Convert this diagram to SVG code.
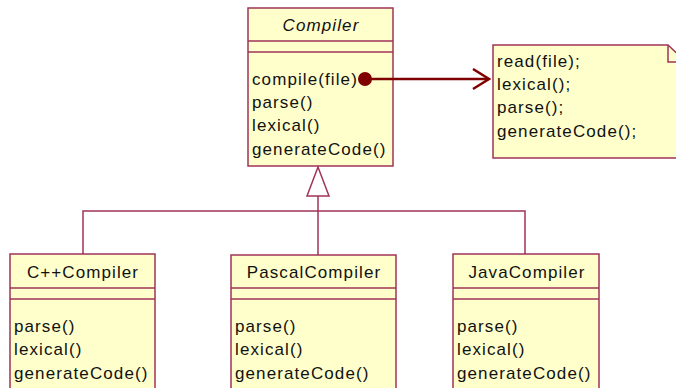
<svg xmlns="http://www.w3.org/2000/svg" width="676" height="388" viewBox="0 0 676 388">
<defs>
<style>
.box{fill:#FFFFCC;stroke:#A03358;stroke-width:1.5}
.ln{stroke:#A03358;stroke-width:1.5;fill:none}
text{font-family:"Liberation Sans",Arial,sans-serif;font-size:17px;letter-spacing:1.1px;fill:#111}
.c{text-anchor:middle}
</style>
<marker id="open" markerWidth="20" markerHeight="24" refX="18" refY="11" orient="auto" markerUnits="userSpaceOnUse">
<path d="M2,1 L18,11 L2,21" fill="none" stroke="#800000" stroke-width="2.5"/>
</marker>
</defs>
<rect width="676" height="388" fill="#fff"/>
<g id="Compiler">
<rect class="box" x="248" y="8" width="145" height="158"/>
<line class="ln" x1="248" y1="41" x2="393" y2="41"/>
<line class="ln" x1="248" y1="52" x2="393" y2="52"/>
<text class="c" x="321" y="31" font-style="italic">Compiler</text>
<text x="252" y="85">compile(file)</text>
<text x="252" y="108">parse()</text>
<text x="252" y="131">lexical()</text>
<text x="252" y="155">generateCode()</text>
</g>
<g id="note">
<path class="box" d="M493,45 L668,45 L686,62 L686,158 L493,158 Z"/>
<path class="ln" d="M668,45 L668,62 L686,62"/>
<text x="497" y="67">read(file);</text>
<text x="497" y="90">lexical();</text>
<text x="497" y="113">parse();</text>
<text x="497" y="137">generateCode();</text>
</g>
<g id="CppCompiler">
<rect class="box" x="10" y="254" width="145" height="150"/>
<line class="ln" x1="10" y1="288" x2="155" y2="288"/>
<line class="ln" x1="10" y1="299" x2="155" y2="299"/>
<text class="c" x="83" y="278">C++Compiler</text>
<text x="14" y="332">parse()</text>
<text x="14" y="355">lexical()</text>
<text x="14" y="379">generateCode()</text>
</g>
<g id="PascalCompiler">
<rect class="box" x="231" y="255" width="165" height="150"/>
<line class="ln" x1="231" y1="288" x2="396" y2="288"/>
<line class="ln" x1="231" y1="299" x2="396" y2="299"/>
<text class="c" x="314" y="278">PascalCompiler</text>
<text x="235" y="332">parse()</text>
<text x="235" y="355">lexical()</text>
<text x="235" y="379">generateCode()</text>
</g>
<g id="JavaCompiler">
<rect class="box" x="453" y="254" width="146" height="150"/>
<line class="ln" x1="453" y1="288" x2="599" y2="288"/>
<line class="ln" x1="453" y1="299" x2="599" y2="299"/>
<text class="c" x="527" y="278">JavaCompiler</text>
<text x="457" y="332">parse()</text>
<text x="457" y="355">lexical()</text>
<text x="457" y="379">generateCode()</text>
</g>
<g id="connectors">
<polyline class="ln" points="83,254 83,211 525,211 525,254"/>
<line class="ln" x1="318" y1="196" x2="318" y2="255"/>
<polygon points="318,167 307,196 329,196" fill="#fff" stroke="#A03358" stroke-width="1.5"/>
<line x1="365" y1="79" x2="489" y2="79" stroke="#800000" stroke-width="2.5" marker-end="url(#open)"/>
<circle cx="365" cy="79" r="7" fill="#800000"/>
</g>
</svg>
